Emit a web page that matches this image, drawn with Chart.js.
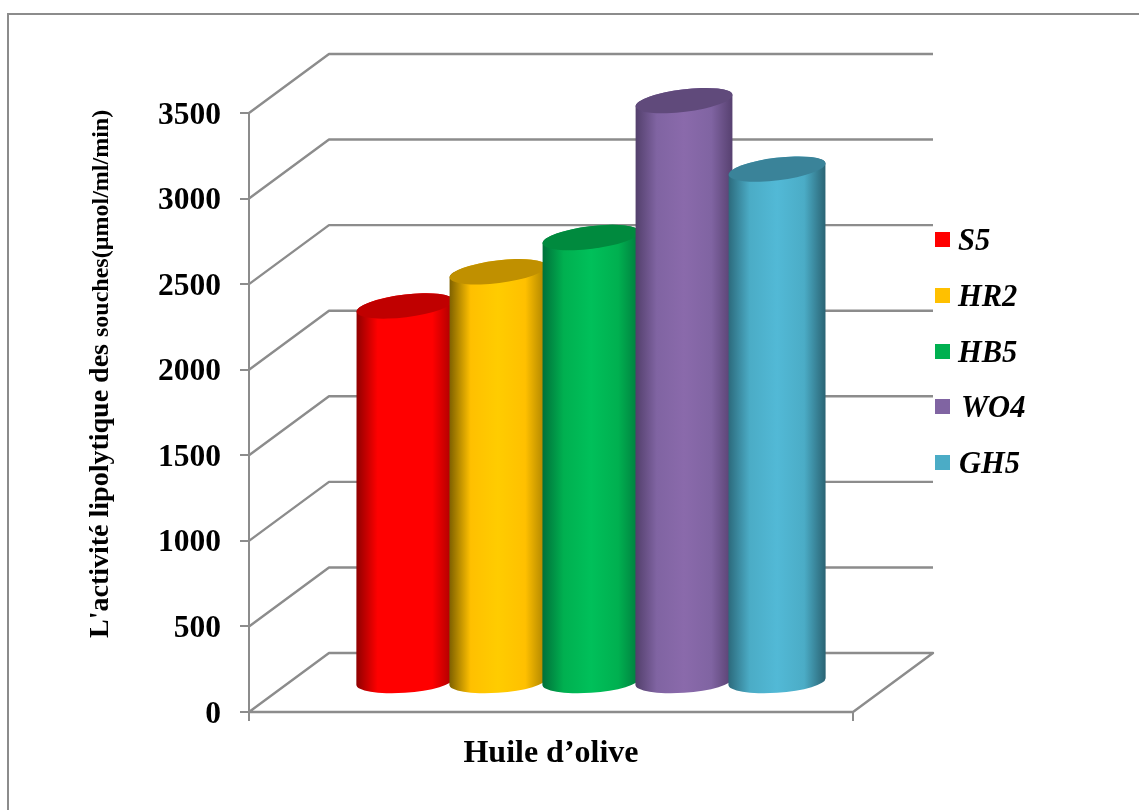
<!DOCTYPE html>
<html>

<head>
    <title>Activité lipolytique</title>
    <script src="https://cdn.jsdelivr.net/npm/chart.js"></script>
    <style>
        body { margin: 0; background: #fff; }
        canvas { display: block; }
    </style>
</head>

<body>
    <canvas id="chart" width="1139" height="810"></canvas>

    <script>
        const categories = ["Huile d\u2019olive"];
        const seriesNames = ["S5", "HR2", "HB5", "WO4", "GH5"];
        const seriesValues = [[2200], [2400], [2600], [3400], [3000]];
        const yTicks = [0, 500, 1000, 1500, 2000, 2500, 3000, 3500];

        const legendColors = ["#ff0000", "#ffc000", "#00b050", "#8064a2", "#4bacc6"];
        const legendNudge = [0, 0, 0, 3, 1];
        const sideEdgeLeft = ["#8f0000", "#7d6000", "#00703a", "#523f6b", "#2c6a7c"];
        const sideMid = ["#ff0000", "#ffc000", "#00b050", "#8064a2", "#4bacc6"];
        const sideCentre = ["#ff0000", "#ffcc00", "#00c05a", "#8a6aab", "#52b9d6"];
        const sideEdgeRight = ["#a50000", "#a67f00", "#007a3d", "#56406f", "#2a6373"];
        const capColors = ["#c00000", "#c09000", "#008a3e", "#604a7b", "#3a8399"];

        const GREY = "#8c8c8c";
        const SERIF = "'Liberation Serif', serif";
        // depth of the box: how far the back wall sits from the front axes
        const DEPTH_X = 80;
        const DEPTH_Y = -59;

        // walls and floor of the 3d box
        function drawBox(chart) {
            const ctx = chart.ctx;
            const y = chart.scales.y;
            const left = chart.chartArea.left;
            const right = chart.chartArea.right;
            ctx.save();
            ctx.strokeStyle = GREY;
            ctx.lineWidth = 2.4;
            ctx.lineJoin = "round";
            yTicks.forEach(function (v) {
                const py = y.getPixelForValue(v);
                ctx.beginPath();
                ctx.moveTo(left, py);
                ctx.lineTo(left + DEPTH_X, py + DEPTH_Y);
                ctx.lineTo(right + DEPTH_X, py + DEPTH_Y);
                if (v === 0) {
                    ctx.lineTo(right, py);
                    ctx.lineTo(left, py);
                }
                ctx.stroke();
            });
            ctx.restore();
        }

        // one cylinder, standing in the middle of the box depth
        function drawCylinder(ctx, bar, i) {
            const cx = bar.x + DEPTH_X / 2;
            const topY = bar.y + DEPTH_Y / 2;
            const baseY = bar.base + DEPTH_Y / 2;
            const rx = bar.width / 2;
            const ry = 11.3;
            const topTilt = -7 * Math.PI / 180;
            const baseTilt = -4 * Math.PI / 180;
            const topStart = Math.atan2(-ry * Math.sin(topTilt), rx * Math.cos(topTilt));
            const baseStart = Math.atan2(-ry * Math.sin(baseTilt), rx * Math.cos(baseTilt));

            const grad = ctx.createLinearGradient(cx - rx, 0, cx + rx, 0);
            grad.addColorStop(0, sideEdgeLeft[i]);
            grad.addColorStop(0.22, sideMid[i]);
            grad.addColorStop(0.5, sideCentre[i]);
            grad.addColorStop(0.78, sideMid[i]);
            grad.addColorStop(1, sideEdgeRight[i]);

            ctx.beginPath();
            ctx.ellipse(cx, baseY, rx, ry, baseTilt, baseStart, baseStart + Math.PI);
            ctx.ellipse(cx, topY, rx, ry, topTilt, topStart + Math.PI, topStart + 2 * Math.PI);
            ctx.closePath();
            ctx.fillStyle = grad;
            ctx.fill();

            ctx.beginPath();
            ctx.ellipse(cx, topY, rx, ry, topTilt, 0, 2 * Math.PI);
            ctx.fillStyle = capColors[i];
            ctx.fill();
        }

        // y title has two sizes, so it cannot go through the scale title option
        function drawYTitle(chart) {
            const ctx = chart.ctx;
            const partA = "L'activité lipolytique des ";
            const partB = "souches(\u00b5mol/ml/min)";
            ctx.save();
            ctx.translate(108, 638);
            ctx.rotate(-Math.PI / 2);
            ctx.fillStyle = "#000";
            ctx.textAlign = "left";
            ctx.textBaseline = "alphabetic";
            ctx.font = "bold 28px " + SERIF;
            ctx.fillText(partA, 0, 0);
            const w = ctx.measureText(partA).width;
            ctx.font = "bold 24px " + SERIF;
            ctx.fillText(partB, w, 0);
            ctx.restore();
        }

        function drawLegend(chart) {
            const ctx = chart.ctx;
            ctx.save();
            ctx.textBaseline = "alphabetic";
            ctx.textAlign = "left";
            ctx.font = "italic bold 30.5px " + SERIF;
            seriesNames.forEach(function (name, i) {
                const rowY = 232 + i * 55.75;
                ctx.fillStyle = legendColors[i];
                ctx.fillRect(935, Math.round(rowY), 15, 15);
                ctx.fillStyle = "#000";
                ctx.fillText(name, 958 + legendNudge[i], rowY + 18);
            });
            ctx.restore();
        }

        const cylinderPlugin = {
            id: "cylinders",
            beforeDraw: function (chart) {
                const ctx = chart.ctx;
                // frame around the figure, open on the right and at the bottom
                ctx.save();
                ctx.strokeStyle = GREY;
                ctx.lineWidth = 2;
                ctx.beginPath();
                ctx.moveTo(8, 810);
                ctx.lineTo(8, 14);
                ctx.lineTo(1139, 14);
                ctx.stroke();
                ctx.restore();
                drawBox(chart);
            },
            beforeDatasetsDraw: function (chart) {
                chart.data.datasets.forEach(function (ds, i) {
                    drawCylinder(chart.ctx, chart.getDatasetMeta(i).data[0], i);
                });
                return false;
            },
            afterDraw: function (chart) {
                drawYTitle(chart);
                drawLegend(chart);
            }
        };

        new Chart(document.getElementById("chart"), {
            type: "bar",
            data: {
                labels: categories,
                datasets: seriesNames.map(function (name, i) {
                    return { label: name, data: seriesValues[i], backgroundColor: legendColors[i] };
                })
            },
            plugins: [cylinderPlugin],
            options: {
                responsive: false,
                animation: false,
                events: [],
                layout: { padding: { left: 10, top: 113, right: 286, bottom: 0 } },
                // neighbouring cylinders overlap a little
                categoryPercentage: 0.77,
                barPercentage: 1.048,
                plugins: { legend: { display: false }, tooltip: { enabled: false } },
                scales: {
                    x: {
                        afterFit: function (scale) { scale.height = 98; },
                        grid: { drawOnChartArea: false, color: GREY, lineWidth: 2, tickLength: 9, tickColor: GREY },
                        border: { color: GREY, width: 2 },
                        ticks: { color: "#000", padding: 14, font: { family: SERIF, size: 32, weight: "bold" } }
                    },
                    y: {
                        min: 0,
                        max: 3500,
                        afterFit: function (scale) { scale.width = 239; },
                        afterBuildTicks: function (scale) {
                            scale.ticks = yTicks.map(function (v) { return { value: v }; });
                        },
                        grid: { drawOnChartArea: false, color: GREY, lineWidth: 2, tickLength: 9, tickColor: GREY },
                        border: { color: GREY, width: 2 },
                        ticks: {
                            color: "#000",
                            padding: 19,
                            labelOffset: 2.5,
                            font: { family: SERIF, size: 31.5, weight: "bold" },
                            callback: function (value) { return String(value); }
                        }
                    }
                }
            }
        });
    </script>
</body>

</html>
